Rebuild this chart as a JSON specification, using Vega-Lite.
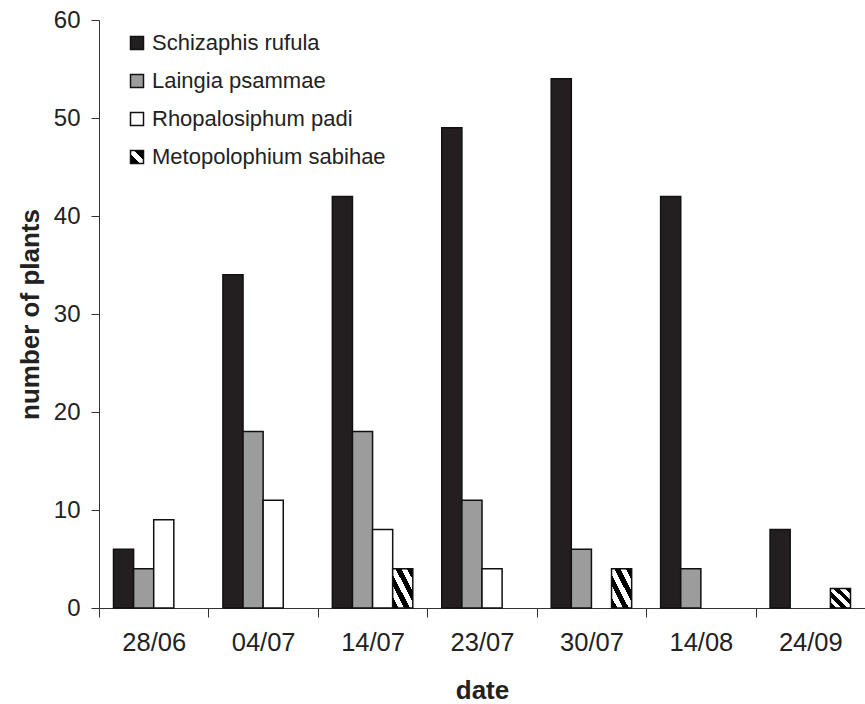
{
  "$schema": "https://vega.github.io/schema/vega-lite/v6.json",
  "width": 766,
  "height": 588,
  "autosize": {"type": "none"},
  "padding": {"left": 99, "top": 20, "right": 0, "bottom": 96},
  "background": "white",
  "config": {
    "font": "Liberation Sans",
    "view": {"stroke": null},
    "axis": {"domainColor": "#333333", "tickColor": "#333333", "labelColor": "#222222", "titleColor": "#222222", "grid": false}
  },
  "data": {
    "values": [
      {"date": "28/06", "species": "Schizaphis rufula", "plants": 6},
      {"date": "28/06", "species": "Laingia psammae", "plants": 4},
      {"date": "28/06", "species": "Rhopalosiphum padi", "plants": 9},
      {"date": "04/07", "species": "Schizaphis rufula", "plants": 34},
      {"date": "04/07", "species": "Laingia psammae", "plants": 18},
      {"date": "04/07", "species": "Rhopalosiphum padi", "plants": 11},
      {"date": "14/07", "species": "Schizaphis rufula", "plants": 42},
      {"date": "14/07", "species": "Laingia psammae", "plants": 18},
      {"date": "14/07", "species": "Rhopalosiphum padi", "plants": 8},
      {"date": "14/07", "species": "Metopolophium sabihae", "plants": 4},
      {"date": "23/07", "species": "Schizaphis rufula", "plants": 49},
      {"date": "23/07", "species": "Laingia psammae", "plants": 11},
      {"date": "23/07", "species": "Rhopalosiphum padi", "plants": 4},
      {"date": "30/07", "species": "Schizaphis rufula", "plants": 54},
      {"date": "30/07", "species": "Laingia psammae", "plants": 6},
      {"date": "30/07", "species": "Metopolophium sabihae", "plants": 4},
      {"date": "14/08", "species": "Schizaphis rufula", "plants": 42},
      {"date": "14/08", "species": "Laingia psammae", "plants": 4},
      {"date": "24/09", "species": "Schizaphis rufula", "plants": 8},
      {"date": "24/09", "species": "Metopolophium sabihae", "plants": 2}
    ]
  },
  "mark": {"type": "bar", "stroke": "#111111", "strokeWidth": 1.5},
  "encoding": {
    "x": {
      "field": "date",
      "type": "nominal",
      "scale": {"domain": ["28/06", "04/07", "14/07", "23/07", "30/07", "14/08", "24/09"], "paddingInner": 0, "paddingOuter": 0},
      "axis": {"labelAngle": 0, "tickBand": "extent", "tickSize": 9, "labelPadding": 13, "labelFontSize": 25.5, "title": "date", "titleFontSize": 26, "titleFontWeight": "bold", "titlePadding": 22}
    },
    "xOffset": {
      "field": "species",
      "type": "nominal",
      "scale": {"domain": ["Schizaphis rufula", "Laingia psammae", "Rhopalosiphum padi", "Metopolophium sabihae"], "paddingInner": 0, "paddingOuter": 0.72}
    },
    "y": {
      "field": "plants",
      "type": "quantitative",
      "scale": {"domain": [0, 60]},
      "axis": {"values": [0, 10, 20, 30, 40, 50, 60], "tickSize": 8, "labelPadding": 11, "labelFontSize": 24, "title": "number of plants", "titleFontSize": 26, "titleFontWeight": "bold", "titlePadding": 10}
    },
    "fill": {
      "condition": {
        "test": "datum.species === 'Metopolophium sabihae'",
        "value": {"gradient": "linear", "x1": 0, "y1": 1, "x2": 1, "y2": 0, "stops": [
          {"offset": 0, "color": "#000000"}, {"offset": 0.143, "color": "#000000"},
          {"offset": 0.143, "color": "#ffffff"}, {"offset": 0.286, "color": "#ffffff"},
          {"offset": 0.286, "color": "#000000"}, {"offset": 0.429, "color": "#000000"},
          {"offset": 0.429, "color": "#ffffff"}, {"offset": 0.571, "color": "#ffffff"},
          {"offset": 0.571, "color": "#000000"}, {"offset": 0.714, "color": "#000000"},
          {"offset": 0.714, "color": "#ffffff"}, {"offset": 0.857, "color": "#ffffff"},
          {"offset": 0.857, "color": "#000000"}, {"offset": 1, "color": "#000000"}
        ]}
      },
      "field": "species",
      "type": "nominal",
      "scale": {
        "domain": ["Schizaphis rufula", "Laingia psammae", "Rhopalosiphum padi", "Metopolophium sabihae"],
        "range": ["#231f20", "#9c9c9c", "#ffffff", {"expr": "{gradient: 'linear', x1: 0, y1: 1, x2: 1, y2: 0, stops: [{offset: 0, color: '#000000'}, {offset: 0.36, color: '#000000'}, {offset: 0.36, color: '#ffffff'}, {offset: 0.64, color: '#ffffff'}, {offset: 0.64, color: '#000000'}, {offset: 1, color: '#000000'}]}"}]
      },
      "legend": {
        "title": null,
        "orient": "none",
        "legendX": 27,
        "legendY": 12,
        "symbolType": "square",
        "symbolSize": 169,
        "labelFontSize": 22,
        "labelColor": "#222222",
        "labelLimit": 400,
        "rowPadding": 16,
        "labelOffset": 4,
        "encode": {
          "symbols": {
            "stroke": {"value": "#111111"},
            "strokeWidth": {"value": 1.2},
            "opacity": {"value": 1}
          }
        }
      }
    }
  }
}
